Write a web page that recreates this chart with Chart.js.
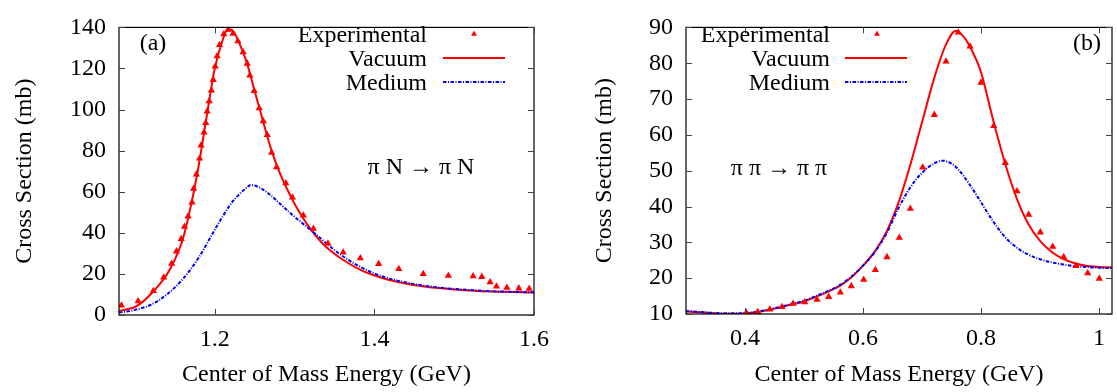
<!DOCTYPE html>
<html>
<head>
<meta charset="utf-8">
<script src="https://cdn.jsdelivr.net/npm/chart.js@4.4.0/dist/chart.umd.min.js"></script>
<style>
  body { margin: 0; background: #fff; width: 1117px; height: 392px; overflow: hidden; position: relative; }
  canvas { position: absolute; top: 0; }
  #chartA { left: 0; }
  #chartB { left: 560px; }
</style>
</head>
<body>
<canvas id="chartA" width="560" height="392"></canvas>
<canvas id="chartB" width="557" height="392"></canvas>
<script>
/* ---------------- DATA : panel (a)  pi N -> pi N ---------------- */

const expEnergyA = [1.083, 1.104, 1.123, 1.136, 1.146, 1.152, 1.158, 1.162, 1.1665, 1.1715,
    1.1735, 1.177, 1.181, 1.1828, 1.1865, 1.1887, 1.1904, 1.193, 1.1958, 1.198,
    1.2005, 1.203, 1.206, 1.2113, 1.2168, 1.223, 1.229, 1.2356, 1.2407, 1.244,
    1.2494, 1.2557, 1.2608, 1.2658, 1.2713, 1.2776, 1.289, 1.2973, 1.311, 1.3235,
    1.3418, 1.361, 1.3824, 1.4054, 1.4306, 1.4612, 1.4927, 1.5237, 1.5346, 1.545,
    1.553, 1.566, 1.581, 1.594];
const expSigmaA = [4.7, 6.7, 11.7, 18.3, 25, 31, 37, 43, 48, 54.8,
    61.5, 68.5, 76.2, 82.5, 88.9, 93.5, 99.1, 104.1, 109.3, 114.5,
    121, 126, 131.5, 136.7, 138.9, 137, 133.3, 127.9, 122.4, 116.6,
    109.1, 100.7, 94.4, 87.7, 79, 72, 64.2, 57.2, 48.5, 42,
    34.8, 30.5, 27.7, 24.9, 22.4, 20, 19.1, 18.9, 18.6, 16,
    13.9, 13.3, 13, 12.8];

const vacEnergyA = [1.08, 1.09, 1.10, 1.11, 1.12, 1.13, 1.14, 1.15, 1.16, 1.17, 1.18, 1.19,
    1.20, 1.21, 1.215, 1.22, 1.225, 1.23, 1.24, 1.25, 1.26, 1.27, 1.28, 1.29, 1.30,
    1.31, 1.32, 1.33, 1.34, 1.35, 1.36, 1.38, 1.40, 1.42, 1.44, 1.46, 1.48, 1.50,
    1.53, 1.56, 1.60];
const vacSigmaA = [2.0, 2.8, 3.9, 6.5, 10.2, 14.5, 19.7, 27, 37, 53, 73, 97,
    120, 134, 138.5, 139, 137, 133, 123, 109, 95, 81.5, 70.5, 61.8, 54.2,
    47.6, 41.8, 37, 33, 29.8, 27, 22.5, 19.2, 16.9, 15.2, 14, 13.1, 12.4,
    11.7, 11.3, 10.9];

const medEnergyA = [1.08, 1.10, 1.12, 1.14, 1.16, 1.18, 1.20, 1.22, 1.23, 1.24, 1.245,
    1.25, 1.26, 1.27, 1.28, 1.29, 1.30, 1.31, 1.32, 1.33, 1.34, 1.35, 1.36, 1.38, 1.40,
    1.42, 1.44, 1.46, 1.48, 1.50, 1.53, 1.56, 1.60];
const medSigmaA = [1.2, 2.5, 5, 10, 17.5, 28, 41.5, 54, 58.5, 62, 63.3,
    63, 61.2, 58.3, 54.8, 51.2, 47.8, 44.6, 41.5, 38.2, 34.8, 31.6, 28.7, 23.9, 20.2,
    17.6, 15.8, 14.4, 13.4, 12.7, 11.9, 11.4, 11];

const xTicksA = [1.2, 1.4, 1.6];
const xTickLabelsA = ["1.2", "1.4", "1.6"];
const yTicksA = [0, 20, 40, 60, 80, 100, 120, 140];

/* ---------------- DATA : panel (b)  pi pi -> pi pi ---------------- */

const expEnergyB = [0.4022, 0.4215, 0.4419, 0.4627, 0.4814, 0.5012, 0.522, 0.5418, 0.5616,
    0.5802, 0.6012, 0.6209, 0.6407, 0.6615, 0.6802, 0.7012, 0.7209, 0.7407, 0.7615,
    0.7814, 0.8, 0.8215, 0.8412, 0.861, 0.8808, 0.9005, 0.9215, 0.9401, 0.961,
    0.9808, 1.0005];
const expSigmaB = [10.35, 10.6, 11.3, 12, 12.9, 13.3, 14, 14.8, 16,
    17.8, 19.6, 22.3, 25.9, 31.3, 39.4, 50.9, 65.6, 80.5, 88.6,
    84.7, 74.6, 62.5, 52.2, 44.3, 37.7, 32.8, 28.8, 25.9, 23.4,
    21.4, 19.9];

const vacEnergyB = [0.30, 0.33, 0.36, 0.39, 0.42, 0.45, 0.48, 0.50, 0.52, 0.54, 0.56, 0.58,
    0.60, 0.62, 0.64, 0.66, 0.68, 0.70, 0.72, 0.74, 0.757, 0.77, 0.78, 0.80, 0.82,
    0.84, 0.86, 0.88, 0.90, 0.92, 0.94, 0.96, 0.98, 1.00, 1.022];
const vacSigmaB = [10.7, 10.4, 10.1, 10.1, 10.5, 11.5, 12.7, 13.5, 14.8, 16.2, 17.8, 20.2,
    23.5, 27.5, 33, 41, 51.5, 63.5, 75.5, 85, 89, 87.5, 85, 77.5, 64.5,
    52.5, 42.5, 35.2, 30.4, 27.3, 25.3, 24.1, 23.4, 23.1, 23];

const medEnergyB = [0.30, 0.33, 0.36, 0.39, 0.42, 0.45, 0.48, 0.50, 0.52, 0.54, 0.56, 0.58,
    0.60, 0.62, 0.64, 0.66, 0.68, 0.70, 0.72, 0.735, 0.75, 0.76, 0.78, 0.80, 0.82,
    0.84, 0.86, 0.88, 0.90, 0.92, 0.94, 0.96, 0.98, 1.00, 1.022];
const medSigmaB = [10.8, 10.5, 10.2, 10.2, 10.6, 11.6, 12.8, 13.7, 15, 16.4, 18, 20.4,
    23.5, 27.3, 32.5, 39.5, 45.3, 49.4, 52, 52.8, 52, 50.6, 46.3, 41.2, 36,
    31.6, 28.6, 26.6, 25.3, 24.4, 23.8, 23.3, 23.1, 22.9, 22.8];

const xTicksB = [0.4, 0.6, 0.8, 1.0];
const xTickLabelsB = ["0.4", "0.6", "0.8", "1"];
const yTicksB = [10, 20, 30, 40, 50, 60, 70, 80, 90];

const legendLabels = ["Experimental", "Vacuum", "Medium"];

/* ---------------- STYLE ---------------- */

const FONT = "'Liberation Serif', 'Times New Roman', serif";
const FONT_SIZE = 24;
const RED = "#ff0000";
const BLUE = "#0000ff";

Chart.defaults.font.family = FONT;
Chart.defaults.font.size = FONT_SIZE;
Chart.defaults.color = "#000";

function pts(xs, ys) {
    return xs.map((x, i) => ({ x: x, y: ys[i] }));
}

/* frame, inward mirrored ticks, key and labels (gnuplot look) */
const gnuplotLook = {
    id: "gnuplotLook",
    afterDraw(chart, args, o) {
        const { ctx, chartArea: a, scales } = chart;
        ctx.save();

        ctx.strokeStyle = "#000";
        ctx.lineWidth = 1.2;
        ctx.strokeRect(a.left, a.top, a.right - a.left, a.bottom - a.top);

        const tl = 6;
        ctx.lineWidth = 1;
        ctx.strokeStyle = "#444";
        ctx.beginPath();
        scales.x.ticks.forEach(t => {
            const px = Math.round(scales.x.getPixelForValue(t.value)) + 0.5;
            ctx.moveTo(px, a.bottom); ctx.lineTo(px, a.bottom - tl);
            ctx.moveTo(px, a.top); ctx.lineTo(px, a.top + tl);
        });
        scales.y.ticks.forEach(t => {
            const py = Math.round(scales.y.getPixelForValue(t.value)) + 0.5;
            ctx.moveTo(a.left, py); ctx.lineTo(a.left + tl, py);
            ctx.moveTo(a.right, py); ctx.lineTo(a.right - tl, py);
        });
        ctx.stroke();

        // key
        ctx.font = FONT_SIZE + "px " + FONT;
        ctx.fillStyle = "#000";
        ctx.textAlign = "right";
        ctx.textBaseline = "alphabetic";
        o.rows.forEach((y, i) => ctx.fillText(legendLabels[i], o.textRight, y));

        ctx.fillStyle = RED;
        const r = 3.4, tx = o.markX, ty = o.rows[0] - 8;
        ctx.beginPath();
        ctx.moveTo(tx, ty - r);
        ctx.lineTo(tx + r * 0.866, ty + r / 2);
        ctx.lineTo(tx - r * 0.866, ty + r / 2);
        ctx.closePath();
        ctx.fill();

        ctx.lineWidth = 2;
        ctx.strokeStyle = RED;
        ctx.beginPath();
        ctx.moveTo(o.lineX0, o.rows[1] - 8); ctx.lineTo(o.lineX1, o.rows[1] - 8);
        ctx.stroke();

        ctx.strokeStyle = BLUE;
        ctx.setLineDash([3.5, 1.5, 1, 1.5]);
        ctx.beginPath();
        ctx.moveTo(o.lineX0, o.rows[2] - 8); ctx.lineTo(o.lineX1, o.rows[2] - 8);
        ctx.stroke();
        ctx.setLineDash([]);

        // panel label and reaction
        ctx.fillStyle = "#000";
        ctx.textAlign = "center";
        ctx.fillText(o.panel, o.panelX, o.panelY);
        ctx.fillText(o.reaction, o.reactionX, o.reactionY);

        ctx.restore();
    }
};

function makeChart(id, d) {
    return new Chart(document.getElementById(id), {
        type: "scatter",
        data: {
            datasets: [
                {
                    label: legendLabels[0],
                    data: pts(d.expX, d.expY),
                    pointStyle: "triangle",
                    pointRadius: 4.2,
                    backgroundColor: RED,
                    borderWidth: 0,
                    showLine: false
                },
                {
                    label: legendLabels[2],
                    data: pts(d.medX, d.medY),
                    showLine: true,
                    pointRadius: 0,
                    borderColor: BLUE,
                    borderWidth: 2,
                    borderDash: [3.5, 1.5, 1, 1.5],
                    cubicInterpolationMode: "monotone"
                },
                {
                    label: legendLabels[1],
                    data: pts(d.vacX, d.vacY),
                    showLine: true,
                    pointRadius: 0,
                    borderColor: RED,
                    borderWidth: 2,
                    cubicInterpolationMode: "monotone"
                }
            ]
        },
        options: {
            responsive: false,
            animation: false,
            layout: { padding: { top: 17, right: d.padRight, left: 0, bottom: 0 } },
            plugins: {
                legend: { display: false },
                tooltip: { enabled: false },
                gnuplotLook: d.look
            },
            scales: {
                x: {
                    type: "linear",
                    min: d.xMin,
                    max: d.xMax,
                    grid: { display: false, drawTicks: false },
                    border: { display: false },
                    afterBuildTicks: s => { s.ticks = d.xTicks.map(v => ({ value: v })); },
                    afterFit: s => { s.height = d.xAxisH; },
                    ticks: {
                        padding: 10,
                        callback: (v, i) => d.xTickLabels[i]
                    },
                    title: {
                        display: true,
                        text: "Center of Mass Energy (GeV)",
                        padding: { top: 0, bottom: 3 }
                    }
                },
                y: {
                    type: "linear",
                    min: d.yTicks[0],
                    max: d.yTicks[d.yTicks.length - 1],
                    grid: { display: false, drawTicks: false },
                    border: { display: false },
                    afterBuildTicks: s => { s.ticks = d.yTicks.map(v => ({ value: v })); },
                    afterFit: s => { s.width = d.yAxisW; },
                    ticks: { padding: 13 },
                    title: {
                        display: true,
                        text: "Cross Section (mb)",
                        padding: { top: d.yTitlePad, bottom: 0 }
                    }
                }
            }
        },
        plugins: [gnuplotLook]
    });
}

makeChart("chartA", {
    expX: expEnergyA, expY: expSigmaA,
    vacX: vacEnergyA, vacY: vacSigmaA,
    medX: medEnergyA, medY: medSigmaA,
    xMin: 1.08, xMax: 1.6,
    xTicks: xTicksA, xTickLabels: xTickLabelsA, yTicks: yTicksA,
    padRight: 26, yAxisW: 119, xAxisH: 77, yTitlePad: 10,
    look: {
        textRight: 427, lineX0: 443, lineX1: 505, markX: 474,
        rows: [42, 66, 90],
        panel: "(a)", panelX: 153, panelY: 50,
        reaction: "π N → π N", reactionX: 421, reactionY: 174
    }
});

makeChart("chartB", {
    expX: expEnergyB, expY: expSigmaB,
    vacX: vacEnergyB, vacY: vacSigmaB,
    medX: medEnergyB, medY: medSigmaB,
    xMin: 0.3, xMax: 1.022,
    xTicks: xTicksB, xTickLabels: xTickLabelsB, yTicks: yTicksB,
    padRight: 5, yAxisW: 126, xAxisH: 78, yTitlePad: 30,
    look: {
        textRight: 270, lineX0: 285, lineX1: 347, markX: 317,
        rows: [42, 66, 90],
        panel: "(b)", panelX: 527, panelY: 50,
        reaction: "π π → π π", reactionX: 219, reactionY: 175
    }
});
</script>
</body>
</html>
